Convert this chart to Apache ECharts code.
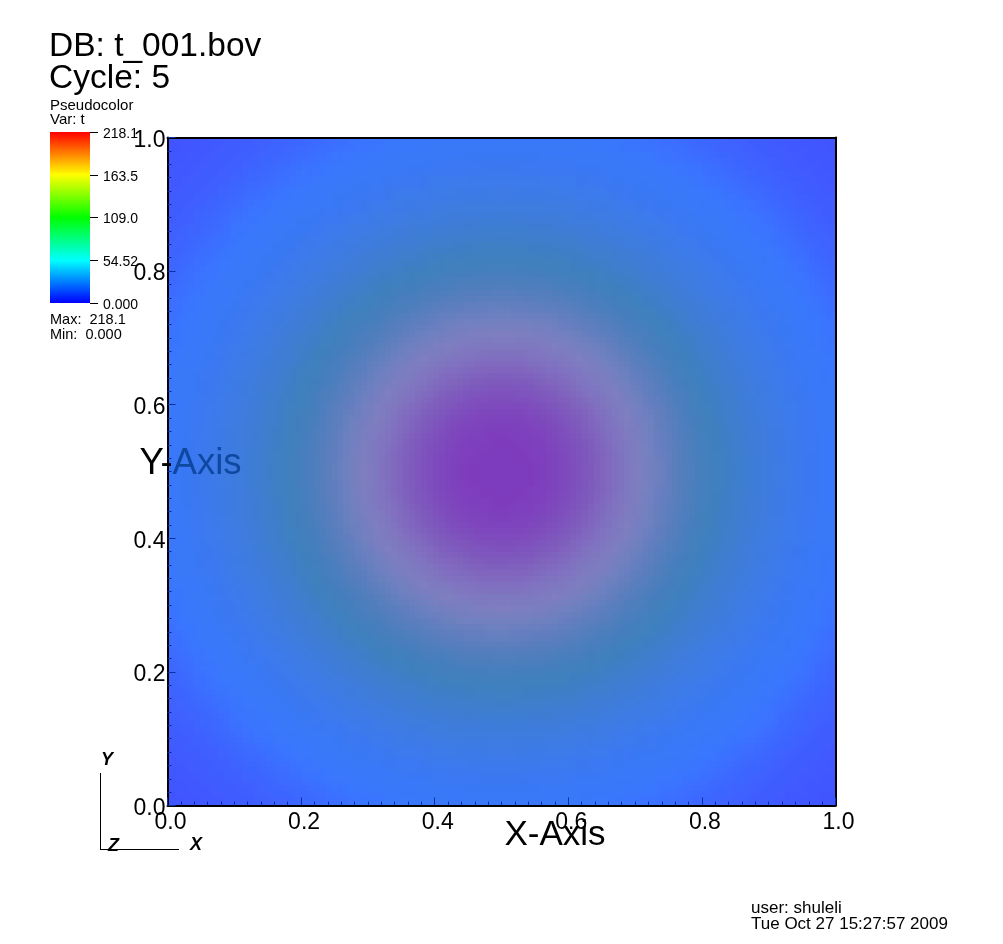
<!DOCTYPE html>
<html>
<head>
<meta charset="utf-8">
<style>html,body{margin:0;padding:0;background:#fff}#c{width:1003px;height:944px}</style>
<script src="https://cdn.jsdelivr.net/npm/echarts@6/dist/echarts.min.js"></script>
</head>
<body>
<div id="c"></div>
<script>
// Field t: one quadrant, from the plot centre out towards a corner
// (the picture is mirror-symmetric about the plot centre).
const quadrant = [
[214,209,204,199,193,188,182,177,171,166,160,155,149,144,138,133,127,122,116,111,105,100,94,89,83,78,72,67],
[209,206,202,197,192,187,181,176,171,165,160,154,149,143,138,132,127,121,116,110,105,99,94,88,83,78,72,66],
[204,202,199,194,190,185,180,175,169,164,159,153,148,142,137,132,126,121,115,110,104,99,93,88,83,77,72,66],
[199,197,194,191,187,182,177,172,167,162,157,152,147,141,136,131,125,120,114,109,104,98,93,87,82,76,71,65],
[193,192,190,187,183,179,175,170,165,160,155,150,145,140,135,129,124,119,113,108,103,97,92,86,81,76,70,65],
[188,187,185,182,179,175,171,167,162,158,153,148,143,138,133,128,122,117,112,107,101,96,91,85,80,75,69,64],
[182,181,180,177,175,171,167,163,159,155,150,145,140,136,131,126,120,115,110,105,100,94,89,84,79,73,68,63],
[177,176,175,172,170,167,163,160,156,151,147,142,138,133,128,123,118,113,108,103,98,93,88,82,77,72,66,61],
[171,171,169,167,165,162,159,156,152,148,144,139,135,130,126,121,116,111,106,101,96,91,86,81,75,70,65,60],
[166,165,164,162,160,158,155,151,148,144,140,136,132,127,123,118,113,108,104,99,94,89,84,79,73,68,63,58],
[160,160,159,157,155,153,150,147,144,140,136,132,128,124,120,115,110,106,101,96,91,86,81,76,71,66,61,56],
[155,154,153,152,150,148,145,142,139,136,132,129,125,120,116,112,107,103,98,93,89,84,79,74,69,64,59,54],
[149,149,148,147,145,143,140,138,135,132,128,125,121,117,113,108,104,100,95,91,86,81,76,72,67,62,57,52],
[144,143,142,141,140,138,136,133,130,127,124,120,117,113,109,105,101,96,92,88,83,78,74,69,64,59,54,49],
[138,138,137,136,135,133,131,128,126,123,120,116,113,109,105,101,97,93,89,84,80,75,71,66,61,57,52,47],
[133,132,132,131,129,128,126,123,121,118,115,112,108,105,101,97,93,89,85,81,77,72,68,63,58,54,49,44],
[127,127,126,125,124,122,120,118,116,113,110,107,104,101,97,93,90,86,82,78,73,69,64,60,55,51,46,42],
[122,121,121,120,119,117,115,113,111,108,106,103,100,96,93,89,86,82,78,74,70,65,61,57,52,48,43,39],
[116,116,115,114,113,112,110,108,106,104,101,98,95,92,89,85,82,78,74,70,66,62,58,53,49,45,40,36],
[111,110,110,109,108,107,105,103,101,99,96,93,91,88,84,81,78,74,70,66,62,58,54,50,46,41,37,33],
[105,105,104,104,103,101,100,98,96,94,91,89,86,83,80,77,73,70,66,62,58,55,51,46,42,38,34,29],
[100,99,99,98,97,96,94,93,91,89,86,84,81,78,75,72,69,65,62,58,55,51,47,43,39,35,30,26],
[94,94,93,93,92,91,89,88,86,84,81,79,76,74,71,68,64,61,58,54,51,47,43,39,35,31,27,23],
[89,88,88,87,86,85,84,82,81,79,76,74,72,69,66,63,60,57,53,50,46,43,39,35,31,27,23,19],
[83,83,83,82,81,80,79,77,75,73,71,69,67,64,61,58,55,52,49,46,42,39,35,31,27,23,20,15],
[78,78,77,76,76,75,73,72,70,68,66,64,62,59,57,54,51,48,45,41,38,35,31,27,23,20,16,12],
[72,72,72,71,70,69,68,66,65,63,61,59,57,54,52,49,46,43,40,37,34,30,27,23,20,16,12,8],
[67,66,66,65,65,64,63,61,60,58,56,54,52,49,47,44,42,39,36,33,29,26,23,19,15,12,8,4]
];
// Plot colours for t = 0 ... tMax, evenly spaced, as seen in the picture
const fieldColours = [
'rgb(65,85,255)','rgb(65,86,255)','rgb(65,90,255)','rgb(64,94,255)','rgb(62,100,255)',
'rgb(60,108,255)','rgb(58,118,255)','rgb(58,120,250)','rgb(58,120,245)','rgb(60,122,238)',
'rgb(62,124,228)','rgb(62,125,218)','rgb(62,126,205)','rgb(62,128,190)','rgb(72,127,190)',
'rgb(88,126,190)','rgb(108,128,191)','rgb(126,127,193)','rgb(128,115,192)','rgb(128,98,190)',
'rgb(126,82,190)','rgb(126,70,190)','rgb(127,62,190)','rgb(125,60,190)','rgb(125,60,190)'];
const tMin = 0;
const tMax = 218.1;
const barValues = [218.1];
const barTicks = [0, 54.52, 109.0, 163.5, 218.1];
const barTickLabels = ['0.000', '54.52', '109.0', '163.5', '218.1'];
const barStops = ['#0000ff', '#00ffff', '#00ff00', '#ffff00', '#ff0000'];

// Mirror the quadrant into the full table of cells [x, y, t] on the plot's 0..1 axes
const n = quadrant.length;
const cellSize = 1 / (2 * n);
const cells = [];
for (let y = 0; y < 2 * n; y++) {
  for (let x = 0; x < 2 * n; x++) {
    const qy = y < n ? n - 1 - y : y - n;
    const qx = x < n ? n - 1 - x : x - n;
    cells.push([(x + 0.5) * cellSize, (y + 0.5) * cellSize, quadrant[qy][qx]]);
  }
}

// Each cell is painted in a few offset layers so neighbouring cells blend softly
const layers = [[0, 0, 1], [-3, -3, 1], [3, -3, 1 / 2], [-3, 3, 1 / 3], [3, 3, 1 / 4]];
function renderCell(params, api) {
  const cx = api.value(0), cy = api.value(1), fill = api.visual('color');
  const a = api.coord([cx - cellSize / 2, cy + cellSize / 2]);
  const b = api.coord([cx + cellSize / 2, cy - cellSize / 2]);
  const children = [];
  layers.forEach((l, k) => {
    const x0 = Math.round(a[0] + l[0]), y0 = Math.round(a[1] + l[1]);
    const x1 = Math.round(b[0] + l[0]), y1 = Math.round(b[1] + l[1]);
    const shape = echarts.graphic.clipRectByRect(
      {x: x0, y: y0, width: x1 - x0, height: y1 - y0}, params.coordSys);
    if (shape) children.push({type: 'rect', z2: k, shape, style: {fill, opacity: l[2]}});
  });
  return {type: 'group', children};
}

const FONT = '"Liberation Sans", Arial, sans-serif';
const tickBlue = '#0b2f9c';
const chart = echarts.init(document.getElementById('c'), null, {renderer: 'canvas'});
chart.setOption({
  animation: false,
  backgroundColor: '#fff',
  title: [
    {text: 'DB: t_001.bov\nCycle: 5', left: 49, top: 31, padding: 0,
      textStyle: {fontFamily: FONT, fontSize: 33.5, fontWeight: 'normal', color: '#000', lineHeight: 32}},
    {text: 'Pseudocolor\nVar: t', left: 50, top: 99, padding: 0,
      textStyle: {fontFamily: FONT, fontSize: 15, fontWeight: 'normal', color: '#000', lineHeight: 14}},
    {text: 'Max:  218.1\nMin:  0.000', left: 50, top: 312, padding: 0,
      textStyle: {fontFamily: FONT, fontSize: 14.5, fontWeight: 'normal', color: '#000', lineHeight: 15}},
    {text: 'user: shuleli\nTue Oct 27 15:27:57 2009', left: 751, top: 900, padding: 0,
      textStyle: {fontFamily: FONT, fontSize: 17, fontWeight: 'normal', color: '#000', lineHeight: 16}}
  ],
  grid: [
    {left: 167.5, top: 137.5, width: 668, height: 668},
    {left: 50, top: 132, width: 40, height: 171}
  ],
  visualMap: [{
    show: false, seriesIndex: 0, dimension: 2, min: tMin, max: tMax,
    inRange: {color: fieldColours}
  }],
  xAxis: [
    {type: 'value', gridIndex: 0, min: 0, max: 1, interval: 0.2, z: 10,
      name: 'X-Axis', nameLocation: 'middle', nameGap: 12, nameMoveOverlap: false,
      nameTextStyle: {fontFamily: FONT, fontSize: 35, color: '#000', align: 'left', padding: [0, 0, 0, 3]},
      axisLine: {show: true, lineStyle: {color: '#000', width: 2}},
      axisTick: {show: true, inside: true, length: 8, lineStyle: {color: tickBlue}},
      minorTick: {show: true, splitNumber: 10, length: 4, lineStyle: {color: tickBlue}},
      splitLine: {show: false},
      axisLabel: {fontFamily: FONT, fontSize: 23, color: '#000', margin: 6, padding: [0, 0, 0, 6], formatter: v => v.toFixed(1)}},
    {type: 'value', gridIndex: 0, min: 0, max: 1, position: 'top', z: 10,
      axisLine: {show: true, onZero: false, lineStyle: {color: '#000', width: 2}},
      axisTick: {show: false}, axisLabel: {show: false}, splitLine: {show: false}},
    {type: 'category', gridIndex: 1, data: ['t'], show: false}
  ],
  yAxis: [
    {type: 'value', gridIndex: 0, min: 0, max: 1, interval: 0.2, z: 10,
      name: '{a|Y-}{b|Axis}', nameLocation: 'middle', nameRotate: 0, nameGap: -74, nameMoveOverlap: false,
      nameTextStyle: {fontFamily: FONT, fontSize: 36.5, padding: [0, 0, 16, 0],
        rich: {a: {fontFamily: FONT, fontSize: 36.5, color: '#000'}, b: {fontFamily: FONT, fontSize: 36.5, color: '#0f48a0'}}},
      axisLine: {show: true, lineStyle: {color: '#000', width: 2}},
      axisTick: {show: true, inside: true, length: 8, lineStyle: {color: tickBlue}},
      minorTick: {show: true, splitNumber: 10, length: 4, lineStyle: {color: tickBlue}},
      splitLine: {show: false},
      axisLabel: {fontFamily: FONT, fontSize: 23, color: '#000', margin: 2, verticalAlign: 'top', lineHeight: 6, formatter: v => v.toFixed(1)}},
    {type: 'value', gridIndex: 0, min: 0, max: 1, position: 'right', z: 10,
      axisLine: {show: true, onZero: false, lineStyle: {color: '#000', width: 2}},
      axisTick: {show: false}, axisLabel: {show: false}, splitLine: {show: false}},
    {type: 'value', gridIndex: 1, min: tMin, max: tMax, position: 'right', z: 10,
      axisLine: {show: false},
      axisTick: {show: true, length: 8, customValues: barTicks, lineStyle: {color: '#000'}},
      splitLine: {show: false},
      axisLabel: {fontFamily: FONT, fontSize: 14, color: '#000', margin: 13, verticalAlign: 'top', lineHeight: 4, customValues: barTicks,
        formatter: v => barTickLabels[barTicks.indexOf(v)]}}
  ],
  series: [
    {type: 'custom', xAxisIndex: 0, yAxisIndex: 0, data: cells, silent: true, progressive: 0,
      encode: {x: 0, y: 1}, renderItem: renderCell},
    {type: 'bar', xAxisIndex: 2, yAxisIndex: 2, data: barValues, barWidth: '100%', silent: true,
      itemStyle: {color: new echarts.graphic.LinearGradient(0, 1, 0, 0,
        barStops.map((c, i) => ({offset: i / (barStops.length - 1), color: c})))}}
  ],
  graphic: [
    {type: 'line', silent: true, shape: {x1: 100.5, y1: 773, x2: 100.5, y2: 850}, style: {stroke: '#000', lineWidth: 1}},
    {type: 'line', silent: true, shape: {x1: 100, y1: 849.5, x2: 179, y2: 849.5}, style: {stroke: '#000', lineWidth: 1}},
    {type: 'text', silent: true, x: 101, y: 751, style: {text: 'Y', fontFamily: FONT, fontSize: 18, fontWeight: 'bold', fontStyle: 'italic', fill: '#000'}},
    {type: 'text', silent: true, x: 108, y: 837, style: {text: 'Z', fontFamily: FONT, fontSize: 18, fontWeight: 'bold', fontStyle: 'italic', fill: '#000'}},
    {type: 'text', silent: true, x: 190, y: 836, style: {text: 'X', fontFamily: FONT, fontSize: 18, fontWeight: 'bold', fontStyle: 'italic', fill: '#000'}}
  ]
});
</script>
</body>
</html>
